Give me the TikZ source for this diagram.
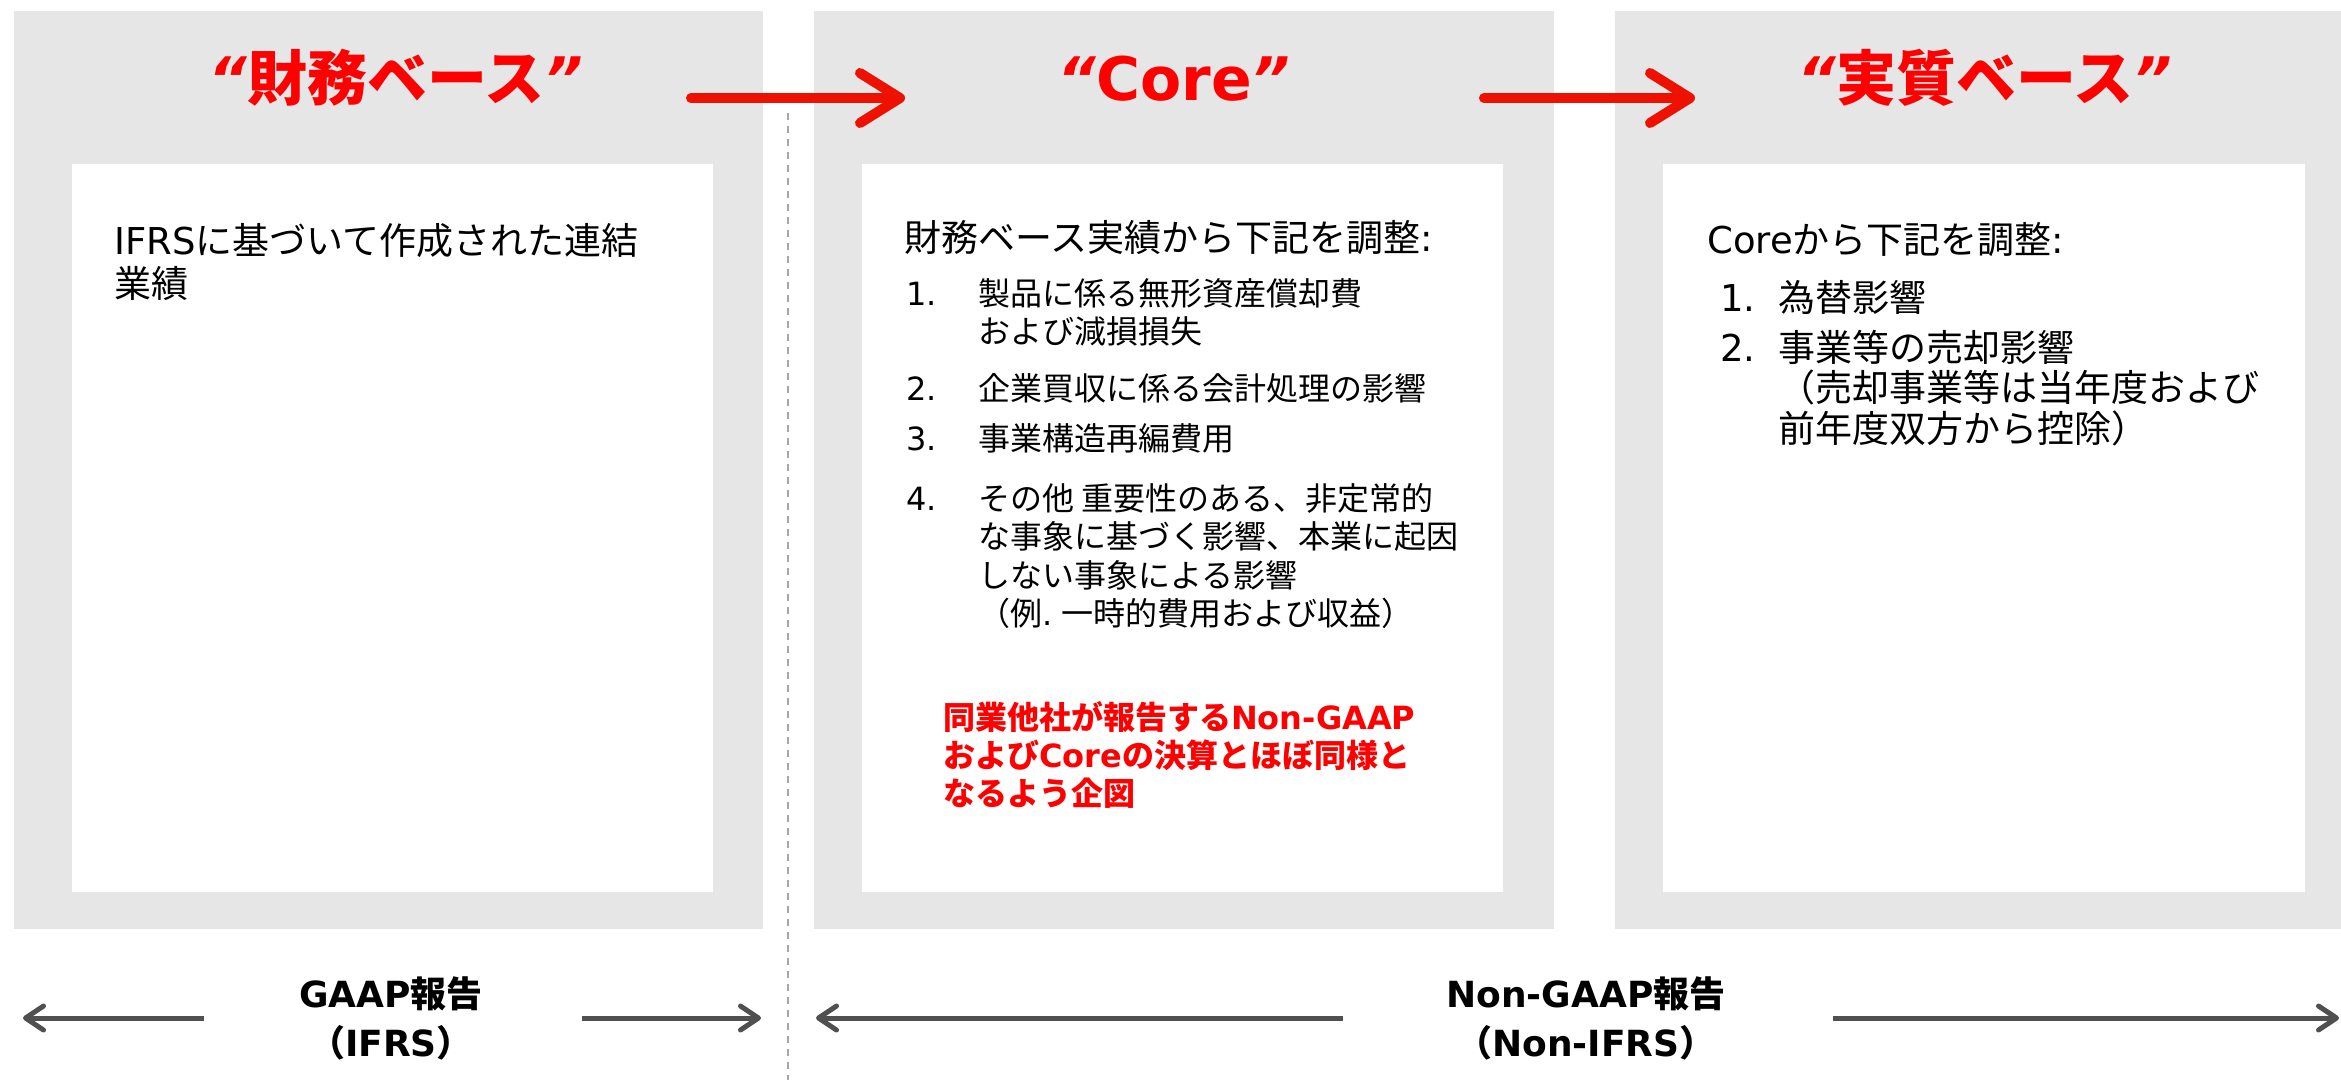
\documentclass[tikz,border=0pt]{standalone}
\usepackage{fontspec}
\setmainfont{Noto Sans CJK JP}
\newfontfamily\lat{DejaVu Sans}
\usetikzlibrary{arrows.meta}
\definecolor{panelgray}{HTML}{E6E6E6}
\definecolor{arrowred}{HTML}{EE1100}
\definecolor{arrowgray}{HTML}{505050}
\definecolor{dashgray}{HTML}{A6A6A6}
\newcommand\qopen{{\lat\bfseries\itshape “}}
\newcommand\qclose{{\lat\bfseries\itshape ”}}
\begin{document}
\begin{tikzpicture}[x=1pt,y=-1pt,
  panel/.style={fill=panelgray,draw=none},
  card/.style={fill=white,draw=none},
  titletext/.style={text=red,font=\fontsize{60}{60}\selectfont\bfseries,anchor=base,inner sep=0},
  hdr/.style={font=\fontsize{37}{43}\selectfont,anchor=base west,inner sep=0,align=left},
  num/.style={font=\fontsize{32}{38}\selectfont\lat,anchor=base west,inner sep=0},
  itemtext/.style={font=\fontsize{32}{38.5}\selectfont,anchor=base west,inner sep=0,align=left},
  numb/.style={font=\fontsize{37}{40}\selectfont\lat,anchor=base west,inner sep=0},
  itemb/.style={font=\fontsize{37}{40.5}\selectfont,anchor=base west,inner sep=0,align=left},
  note/.style={text=red,font=\fontsize{32}{38}\selectfont\bfseries,anchor=base west,inner sep=0,align=left},
  lab/.style={font=\fontsize{36}{36}\selectfont\bfseries,anchor=base,inner sep=0},
  redarrow/.style={draw=arrowred,line width=10pt,line cap=round,-{Straight Barb[length=40pt,width=50pt,round]}},
  grayarrow/.style={draw=arrowgray,line width=5pt,-{Straight Barb[length=18pt,width=24pt,round]}},
  dashline/.style={draw=dashgray,line width=1.6pt,dash pattern=on 7pt off 6pt}
]
\useasboundingbox (0,0) rectangle (2341,1080);
\fill[white] (0,0) rectangle (2341,1080);

% panels and cards
\path[panel] (14,11) rectangle (763,929);
\path[panel] (814,11) rectangle (1554,929);
\path[panel] (1615,11) rectangle (2341,929);
\path[card] (72,164) rectangle (713,892);
\path[card] (862,164) rectangle (1503,892);
\path[card] (1663,164) rectangle (2305,892);

% titles
\node[titletext] (t1) at (396,100) {\qopen 財務ベース\qclose};
\node[titletext] (t2) at (1174,100) {\qopen{\lat\bfseries Core}\qclose};
\node[titletext] (t3) at (1985,100) {\qopen 実質ベース\qclose};

% red arrows
\coordinate (r1s) at (691,98);
\coordinate (r1e) at (905,98);
\coordinate (r2s) at (1484,98);
\coordinate (r2e) at (1695,98);
\draw[redarrow] (r1s) -- (r1e);
\draw[redarrow] (r2s) -- (r2e);

% dashed separator
\coordinate (ds) at (788,113);
\coordinate (de) at (788,1080);
\draw[dashline] (ds) -- (de);

% box 1 (multi-line nodes are placed by the baseline of their last line)
\node[hdr] (b1) at (114,297) {{\lat IFRS}に基づいて作成された連結\\業績};

% box 2
\node[hdr] (b2h) at (904,251) {財務ベース実績から下記を調整{\lat :}};
\node[num] (n1) at (906,305) {1.};
\node[itemtext] (i1) at (978,343.5) {製品に係る無形資産償却費\\および減損損失};
\node[num] (n2) at (906,400) {2.};
\node[itemtext] (i2) at (978,400) {企業買収に係る会計処理の影響};
\node[num] (n3) at (906,450) {3.};
\node[itemtext] (i3) at (978,450) {事業構造再編費用};
\node[num] (n4) at (906,510) {4.};
\node[itemtext] (i4) at (978,625.5) {その他 重要性のある、非定常的\\な事象に基づく影響、本業に起因\\しない事象による影響\\（例{\lat .} 一時的費用および収益）};
\node[note] (nt) at (943,805) {同業他社が報告する{\lat\bfseries Non-GAAP}\\および{\lat\bfseries Core}の決算とほぼ同様と\\なるよう企図};

% box 3
\node[hdr] (b3h) at (1707,253) {{\lat Core}から下記を調整{\lat :}};
\node[numb] (m1) at (1720,311) {1.};
\node[itemb] (j1) at (1778,311) {為替影響};
\node[numb] (m2) at (1720,361) {2.};
\node[itemb] (j2) at (1778,442) {事業等の売却影響\\（売却事業等は当年度および\\前年度双方から控除）};

% bottom labels
\node[lab] (g1) at (391,1007) {{\lat\bfseries GAAP}報告};
\node[lab] (g2) at (391,1056) {（{\lat\bfseries IFRS}）};
\node[lab] (ng1) at (1586,1007) {{\lat\bfseries Non-GAAP}報告};
\node[lab] (ng2) at (1586,1056) {（{\lat\bfseries Non-IFRS}）};

% bottom arrows
\coordinate (ga1s) at (204,1018);
\coordinate (ga1e) at (23,1018);
\coordinate (ga2s) at (582,1018);
\coordinate (ga2e) at (761,1018);
\coordinate (na1s) at (1343,1018);
\coordinate (na1e) at (816,1018);
\coordinate (na2s) at (1833,1018);
\coordinate (na2e) at (2339,1018);
\draw[grayarrow] (ga1s) -- (ga1e);
\draw[grayarrow] (ga2s) -- (ga2e);
\draw[grayarrow] (na1s) -- (na1e);
\draw[grayarrow] (na2s) -- (na2e);
\end{tikzpicture}
\end{document}
